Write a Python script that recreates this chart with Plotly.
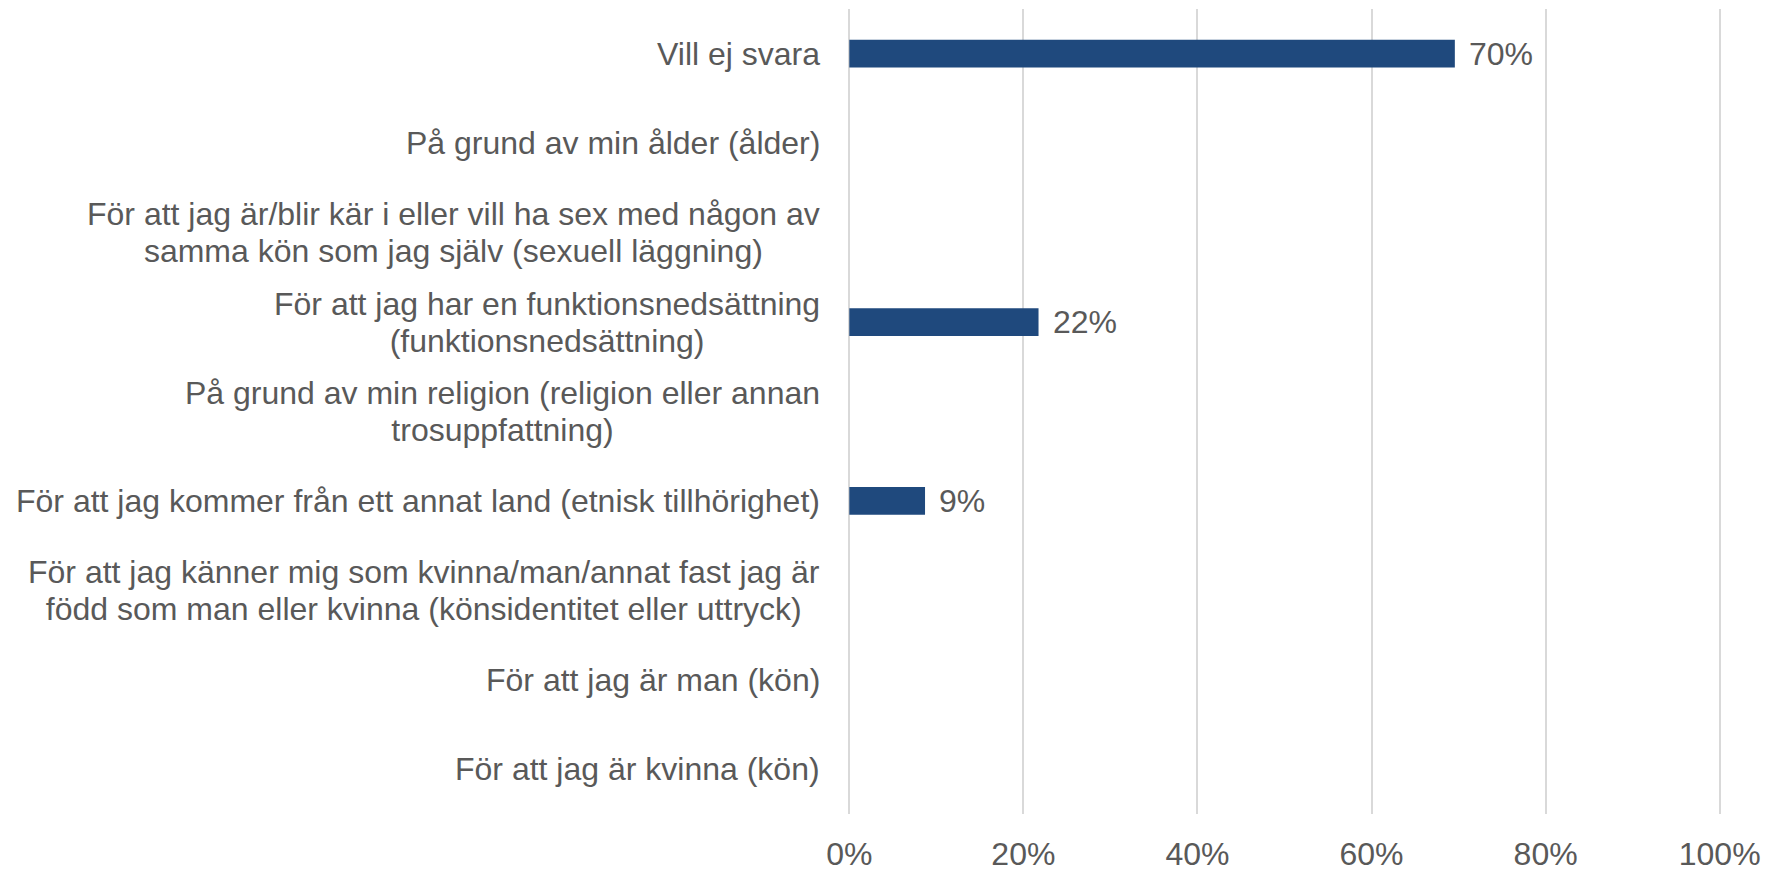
import plotly.graph_objects as go

categories = [
    "Vill ej svara",
    "På grund av min ålder (ålder)",
    "För att jag är/blir kär i eller vill ha sex med någon av\nsamma kön som jag själv (sexuell läggning)",
    "För att jag har en funktionsnedsättning\n(funktionsnedsättning)",
    "På grund av min religion (religion eller annan\ntrosuppfattning)",
    "För att jag kommer från ett annat land (etnisk tillhörighet)",
    "För att jag känner mig som kvinna/man/annat fast jag är\nfödd som man eller kvinna (könsidentitet eller uttryck)",
    "För att jag är man (kön)",
    "För att jag är kvinna (kön)",
]
values = [69.57, 0, 0, 21.74, 0, 8.70, 0, 0, 0]
x_ticks = [0, 20, 40, 60, 80, 100]
x_tick_labels = ["0%", "20%", "40%", "60%", "80%", "100%"]

FONT = "Liberation Sans, Arial, sans-serif"
TXT = "#595959"
FS = 32
LINE_H = 37

ids = list(range(len(categories)))

fig = go.Figure()
fig.add_trace(go.Bar(
    x=values, y=ids, orientation="h",
    marker=dict(color="#1F497D", line=dict(width=0)),
    hoverinfo="skip",
))

annotations = []
for i, (cat, v) in enumerate(zip(categories, values)):
    lines = cat.split("\n")
    html = "<br>".join(f'<span style="font-size:{FS}px">{ln}</span>' for ln in lines)
    annotations.append(dict(
        x=0, xref="paper", y=i, yref="y", text=html, showarrow=False,
        xanchor="right", yanchor="middle", xshift=-26, align="center",
        font=dict(family=FONT, size=LINE_H / 1.3, color=TXT),
    ))
    if v > 0:
        annotations.append(dict(
            x=v, xref="x", y=i, yref="y", text=f"{round(v)}%", showarrow=False,
            xanchor="left", yanchor="middle", xshift=12,
            font=dict(family=FONT, size=FS, color=TXT),
        ))

fig.update_layout(
    width=1772, height=874,
    margin=dict(l=848, r=51, t=9, b=60, autoexpand=False),
    paper_bgcolor="white", plot_bgcolor="white",
    bargap=0.69,
    showlegend=False,
    annotations=annotations,
    font=dict(family=FONT, size=FS, color=TXT),
    xaxis=dict(
        range=[-0.15, 100.15], tickvals=x_ticks, ticktext=x_tick_labels,
        showgrid=True, gridcolor="#D9D9D9", gridwidth=1.5,
        zeroline=False, showline=False, automargin=False,
        ticks="outside", ticklen=12, tickcolor="rgba(0,0,0,0)",
        tickfont=dict(family=FONT, size=FS, color=TXT),
        fixedrange=True,
    ),
    yaxis=dict(
        range=[len(categories) - 0.5, -0.5], automargin=False,
        showticklabels=False, showgrid=False, zeroline=False, showline=False,
        fixedrange=True,
    ),
)

fig.write_html(
    "out.html",
    config={"displayModeBar": False},
    post_script="document.body.style.margin='0';document.body.style.overflow='hidden';",
)
